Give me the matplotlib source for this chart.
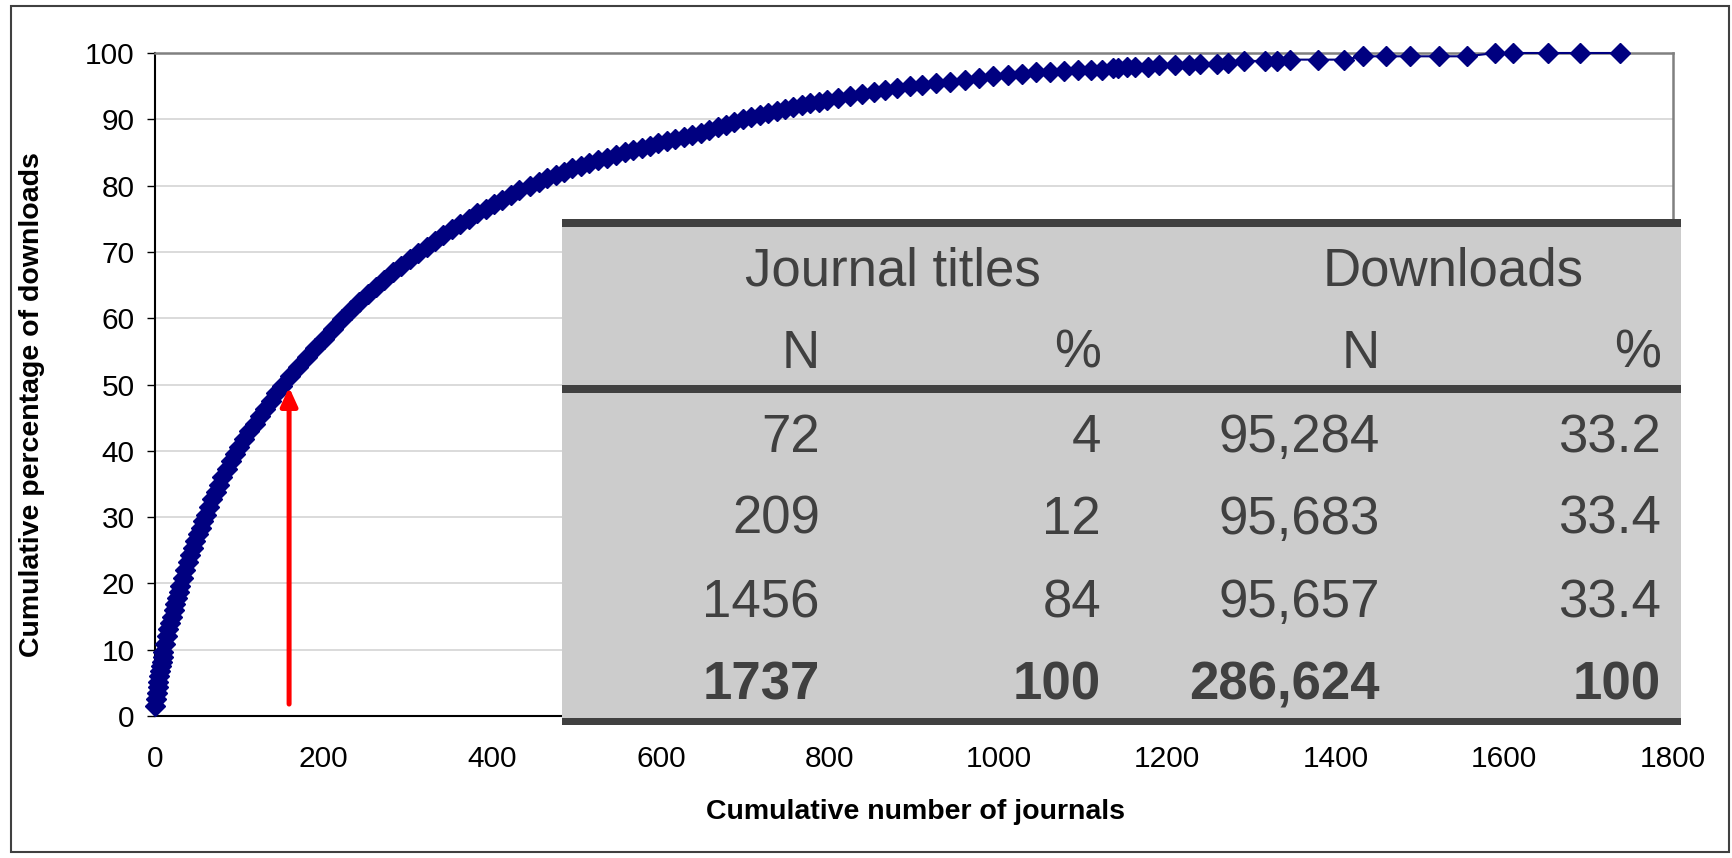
import matplotlib.pyplot as plt
from matplotlib.patches import Rectangle

# canvas in pixels (dpi 100)
W, H = 1733, 858

# cumulative number of journals vs cumulative % of downloads
journals = [
    0, 1, 2, 3, 4, 5, 6, 7, 8, 9, 10, 12, 14, 16, 18, 20, 22, 24, 26, 28,
    30, 33, 36, 39, 42, 45, 48, 51, 54, 57, 60, 64, 68, 72, 76, 80, 85, 90, 95, 100,
    106, 112, 118, 124, 130, 137, 144, 151, 160, 170, 180, 190, 200, 211, 222, 232, 242, 252, 262, 272,
    282, 292, 302, 312, 322, 332, 342, 352, 362, 372, 382, 392, 402, 412, 422, 432, 445, 455, 465, 475,
    485, 495, 505, 515, 525, 536, 547, 557, 567, 577, 587, 597, 607, 617, 627, 637, 647, 657, 667, 677,
    687, 697, 707, 717, 727, 737, 747, 757, 767, 777, 787, 797, 810, 824, 838, 852, 866, 880, 895, 910,
    926, 943, 960, 977, 994, 1011, 1028, 1045, 1061, 1078, 1095, 1110, 1123, 1136, 1142, 1153, 1162, 1178, 1191, 1210,
    1226, 1239, 1259, 1272, 1291, 1316, 1330, 1346, 1379, 1410, 1432, 1460, 1488, 1523, 1556, 1589, 1610, 1652, 1690, 1737,
]
cum_pct = [
    1.5, 2.5, 3.5, 4.4, 5.2, 6.0, 6.8, 7.5, 8.2, 8.9, 9.6, 10.8, 12.0, 13.1, 14.1, 15.0, 16.0, 16.9, 17.8, 18.7,
    19.6, 20.8, 22.0, 23.2, 24.3, 25.4, 26.4, 27.4, 28.4, 29.4, 30.3, 31.5, 32.7, 33.8, 34.9, 36.0, 37.2, 38.4, 39.5, 40.6,
    41.8, 43.0, 44.1, 45.2, 46.3, 47.5, 48.7, 49.8, 51.3, 52.7, 54.1, 55.5, 56.9, 58.4, 59.9, 61.2, 62.4, 63.6, 64.7, 65.8,
    66.9, 67.9, 68.9, 69.9, 70.8, 71.7, 72.6, 73.4, 74.2, 75.0, 75.8, 76.5, 77.2, 77.9, 78.6, 79.3, 80.0, 80.6, 81.1, 81.6,
    82.1, 82.6, 83.0, 83.4, 83.8, 84.2, 84.6, 85.0, 85.3, 85.7, 86.0, 86.4, 86.7, 87.1, 87.4, 87.7, 88.0, 88.4, 88.8, 89.2,
    89.6, 90.0, 90.3, 90.6, 90.9, 91.2, 91.5, 91.8, 92.1, 92.4, 92.6, 92.9, 93.2, 93.5, 93.8, 94.1, 94.4, 94.7, 95.0, 95.2,
    95.5, 95.7, 96.0, 96.3, 96.5, 96.7, 96.9, 97.1, 97.2, 97.3, 97.4, 97.5, 97.4, 97.7, 97.7, 97.9, 97.9, 97.9, 98.2, 98.2,
    98.2, 98.4, 98.4, 98.5, 98.8, 98.8, 98.8, 99.0, 99.0, 99.0, 99.5, 99.5, 99.5, 99.5, 99.5, 100, 100, 100, 100, 100,
]

# red arrow marking the 50 % point
arrow_x = 159
arrow_y0, arrow_y1 = 1.8, 49.6

# inset table
group_headers = ["Journal titles", "Downloads"]
sub_headers = ["N", "%", "N", "%"]
titles_n = [72, 209, 1456, 1737]
titles_pct = [4, 12, 84, 100]
downloads_n = [95284, 95683, 95657, 286624]
downloads_pct = [33.2, 33.4, 33.4, 100]

plt.rcParams['font.family'] = ['Liberation Sans', 'DejaVu Sans']


def fx(x):
    return x / W


def fy(y):
    return 1 - y / H


fig = plt.figure(figsize=(W / 100, H / 100), dpi=100)
ax = fig.add_axes([fx(155), fy(716), fx(1673) - fx(155), fy(53) - fy(716)])

# curve
ax.plot(journals, cum_pct, color='#000080', lw=1.5, marker='D', ms=10.5,
        mec='#000080', mfc='#000080', zorder=3, clip_on=False)

# arrow
ax.annotate('', xy=(arrow_x, arrow_y1), xytext=(arrow_x, arrow_y0),
            arrowprops=dict(arrowstyle='-|>,head_length=0.55,head_width=0.25',
                            color='red', lw=3.6, shrinkA=0, shrinkB=0, mutation_scale=20),
            zorder=4)

# axes styling
ax.set_xlim(0, 1800)
ax.set_ylim(0, 100)
ax.set_xticks(range(0, 1801, 200))
ax.set_yticks(range(0, 101, 10))
ax.grid(axis='y', color='#D4D4D4', lw=1.2)
ax.set_axisbelow(True)
for side in ['left', 'bottom']:
    ax.spines[side].set_color('black')
    ax.spines[side].set_linewidth(1.5)
for side in ['top', 'right']:
    ax.spines[side].set_color('#808080')
    ax.spines[side].set_linewidth(1.8)
ax.tick_params(axis='y', length=6, width=1, direction='out', pad=8.5, labelsize=21.5)
ax.tick_params(axis='x', length=0, pad=21, labelsize=21.5)

fig.text(fx(916), fy(819), "Cumulative number of journals", ha='center', va='baseline',
         fontsize=20.5, fontweight='bold')
fig.text(fx(32), fy(405), "Cumulative percentage of downloads", ha='center', va='center',
         rotation=90, fontsize=20.5, fontweight='bold')

# outer frame
fig.add_artist(Rectangle((fx(11), fy(852)), fx(1729) - fx(11), fy(6) - fy(852),
                         transform=fig.transFigure, fill=False, ec='#404040', lw=1.5))

# table background and rules
tl, tr = 562, 1681
txt_c = '#404040'
fig.add_artist(Rectangle((fx(tl), fy(725)), fx(tr) - fx(tl), fy(219) - fy(725),
                         transform=fig.transFigure, fc='#CCCCCC', ec='none', zorder=5))
for top, bot in [(219, 227), (385, 393), (718, 725)]:
    fig.add_artist(Rectangle((fx(tl), fy(bot)), fx(tr) - fx(tl), fy(top) - fy(bot),
                             transform=fig.transFigure, fc=txt_c, ec='none', zorder=6))

col_right = [820, 1101, 1380, 1661]
group_center = [893, 1453]
fs = 38
for label, cx in zip(group_headers, group_center):
    fig.text(fx(cx), fy(285), label, ha='center', va='baseline', fontsize=fs, color=txt_c, zorder=7)
for label, rx in zip(sub_headers, col_right):
    fig.text(fx(rx), fy(368), label, ha='right', va='baseline', fontsize=fs, color=txt_c, zorder=7)

row_base = [452, 534, 617, 700]
for i, yb in enumerate(row_base):
    cells = [f"{titles_n[i]}", f"{titles_pct[i]}", f"{downloads_n[i]:,}", f"{downloads_pct[i]:g}"]
    weight = 'bold' if i == len(row_base) - 1 else 'normal'
    for text, rx in zip(cells, col_right):
        fig.text(fx(rx), fy(yb), text, ha='right', va='baseline', fontsize=fs,
                 color=txt_c, fontweight=weight, zorder=7)

fig.savefig('out.png', dpi=100)
plt.close(fig)
